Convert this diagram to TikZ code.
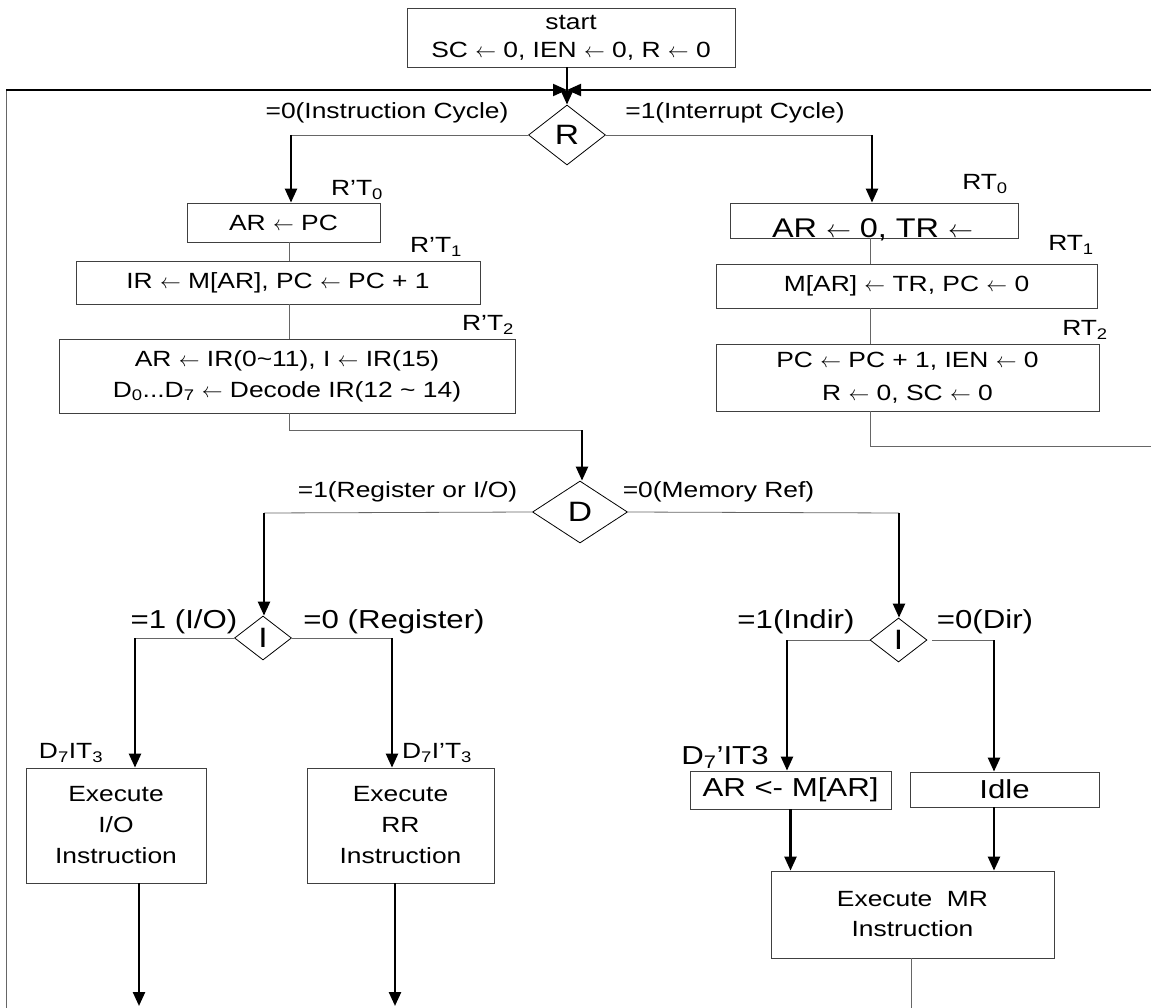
\documentclass[tikz,border=0pt]{standalone}
\usepackage{fontspec}
\setmainfont[FakeStretch=1.2]{Liberation Sans}
\usetikzlibrary{arrows.meta,calc,positioning}
\usetikzlibrary{shapes.geometric}
\newcommand{\fsz}[2]{\fontsize{#1}{#2}\selectfont}
\newcommand{\larr}{\ensuremath{\leftarrow}}
\begin{document}
\begin{tikzpicture}[x=1pt,y=-1pt,
box/.style={draw=black!75,line width=0.8pt,align=center,inner sep=0pt,font=\fsz{22}{31}},
dec/.style={draw,diamond,line width=0.8pt,inner sep=0pt,font=\fsz{28}{30}},
lab/.style={inner sep=0pt,font=\fsz{22}{26}},
big/.style={inner sep=0pt,font=\fsz{26}{30}},
ln/.style={draw=black!60,line width=0.8pt},
arr/.style={line width=2.4pt,-{Triangle[length=14pt,width=12pt]}}]
\useasboundingbox (0,0) rectangle (1151,1008);
% start
\node[box,minimum width=328,minimum height=59,font=\fsz{22}{28}] (S) at (571,37.5) {start\\SC \larr{} 0, IEN \larr{} 0, R \larr{} 0};
\node[dec,minimum width=77,minimum height=60] (R) at (567,135) {R};
\coordinate (M) at (567,90);
\coordinate (TL) at (6,90);
\coordinate (TR) at (1151,90);
\coordinate (BL) at (6,1008);
\node[lab] (L1) at (387,113) {=0(Instruction Cycle)};
\node[lab] (L2) at (735,113) {=1(Interrupt Cycle)};
% instruction cycle
\node[lab] (T0) at (357,190) {R’T\textsubscript{0}};
\node[box,minimum width=193,minimum height=39] (A0) at (283.5,222.5) {AR \larr{} PC};
\node[lab] (T1) at (436,247) {R’T\textsubscript{1}};
\node[box,minimum width=404,minimum height=43] (A1) at (278,282.5) {IR \larr{} M[AR], PC \larr{} PC + 1};
\node[lab] (T2) at (488,325) {R’T\textsubscript{2}};
\node[box,minimum width=456,minimum height=74] (A2) at (287,376) {AR \larr{} IR(0\textasciitilde11), I \larr{} IR(15)\\D\textsubscript{0}...D\textsubscript{7} \larr{} Decode IR(12 \textasciitilde{} 14)};
% interrupt cycle
\node[lab] (U0) at (985,184) {RT\textsubscript{0}};
\node[box,minimum width=288,minimum height=35] (B0) at (874,220.5) {};
\node[inner sep=0pt,font=\fsz{27}{30},anchor=base] (B0t) at (872.5,238) {AR \larr{} 0, TR \larr};
\node[lab] (U1) at (1071,245) {RT\textsubscript{1}};
\node[box,minimum width=381,minimum height=44] (B1) at (906.5,286) {M[AR] \larr{} TR, PC \larr{} 0};
\node[lab] (U2) at (1085,330) {RT\textsubscript{2}};
\node[box,minimum width=383,minimum height=67,font=\fsz{22}{33}] (B2) at (907.5,377.5) {PC \larr{} PC + 1, IEN \larr{} 0\\R \larr{} 0, SC \larr{} 0};
% decode
\node[dec,minimum width=95,minimum height=62] (D) at (580,512) {D};
\node[lab] (L3) at (407.5,492) {=1(Register or I/O)};
\node[lab] (L4) at (718.5,492) {=0(Memory Ref)};
\node[dec,minimum width=57,minimum height=44] (I1) at (263,638) {I};
\node[big] (L5) at (184,622) {=1 (I/O)};
\node[big] (L6) at (394,622) {=0 (Register)};
\node[dec,minimum width=57,minimum height=44] (I2) at (898.5,640) {I};
\node[big] (L7) at (796,622) {=1(Indir)};
\node[big] (L8) at (985,622) {=0(Dir)};
% execute
\node[lab] (C1) at (71,753) {D\textsubscript{7}IT\textsubscript{3}};
\node[box,minimum width=180,minimum height=115] (E1) at (116,825.5) {Execute\\I/O\\Instruction};
\node[lab] (C2) at (437,753) {D\textsubscript{7}I’T\textsubscript{3}};
\node[box,minimum width=187,minimum height=115] (E2) at (400.5,825.5) {Execute\\RR\\Instruction};
\node[big] (C3) at (725,757) {D\textsubscript{7}’IT3};
\node[box,minimum width=201,minimum height=38,font=\fsz{26}{30}] (M1) at (790.5,790) {AR <- M[AR]};
\node[box,minimum width=189,minimum height=35,font=\fsz{26}{30}] (M2) at (1004.5,789.5) {Idle};
\node[box,minimum width=283,minimum height=87,font=\fsz{22}{30}] (E3) at (912.5,914.5) {Execute\ \ MR\\Instruction};
% corners
\coordinate (r1) at (291,135);
\coordinate (r2) at (872,135);
\coordinate (x1) at (289,430);
\coordinate (x2) at (582,430);
\coordinate (y1) at (870,446);
\coordinate (y2) at (1151,446);
\coordinate (d1) at (264,513);
\coordinate (d2) at (899,513);
\coordinate (i1) at (135,638);
\coordinate (i2) at (392,638);
\coordinate (o1) at (139,1006);
\coordinate (o2) at (395,1006);
\coordinate (j1) at (787,640);
\coordinate (j2) at (994,640);
\coordinate (o3) at (911,1008);
% loop back and entry
\draw[ln] (BL) -- (TL);
\draw[arr,line width=2pt] (TL) -- (M);
\draw[arr,line width=2pt] (TR) -- (M);
\draw[arr] (S.south -| M) -- (R.north);
% R branches
\draw[ln] (R.west) -- (r1);
\draw[arr] (r1) -- (r1 |- A0.north);
\draw[ln] (R.east) -- (r2);
\draw[arr] (r2) -- (r2 |- B0.north);
\draw[ln] (A0.south -| x1) -- (A1.north -| x1);
\draw[ln] (A1.south -| x1) -- (A2.north -| x1);
\draw[ln] (A2.south -| x1) -- (x1) -- (x2);
\draw[arr] (x2) -- (x2 |- D.north);
\draw[ln] (B0.south -| y1) -- (B1.north -| y1);
\draw[ln] (B1.south -| y1) -- (B2.north -| y1);
\draw[ln] (B2.south -| y1) -- (y1) -- (y2);
% D branches
\draw[ln] (D.west) -- (d1);
\draw[arr] (d1) -- (d1 |- I1.north);
\draw[ln] (D.east) -- (d2);
\draw[arr] (d2) -- (d2 |- I2.north);
% I branches
\draw[ln] (I1.west) -- (i1);
\draw[arr] (i1) -- (i1 |- E1.north);
\draw[ln] (I1.east) -- (i2);
\draw[arr] (i2) -- (i2 |- E2.north);
\draw[arr] (E1.south -| o1) -- (o1);
\draw[arr] (E2.south -| o2) -- (o2);
\draw[ln] (I2.west) -- (j1);
\draw[arr] (j1) -- (j1 |- M1.north);
\draw[ln,shorten <=5pt] (I2.east) -- (j2);
\draw[arr] (j2) -- (j2 |- M2.north);
\draw[arr] (M1.south) -- (M1.south |- E3.north);
\draw[arr] (M2.south -| j2) -- (j2 |- E3.north);
\draw[ln] (E3.south -| o3) -- (o3);
\end{tikzpicture}
\end{document}
